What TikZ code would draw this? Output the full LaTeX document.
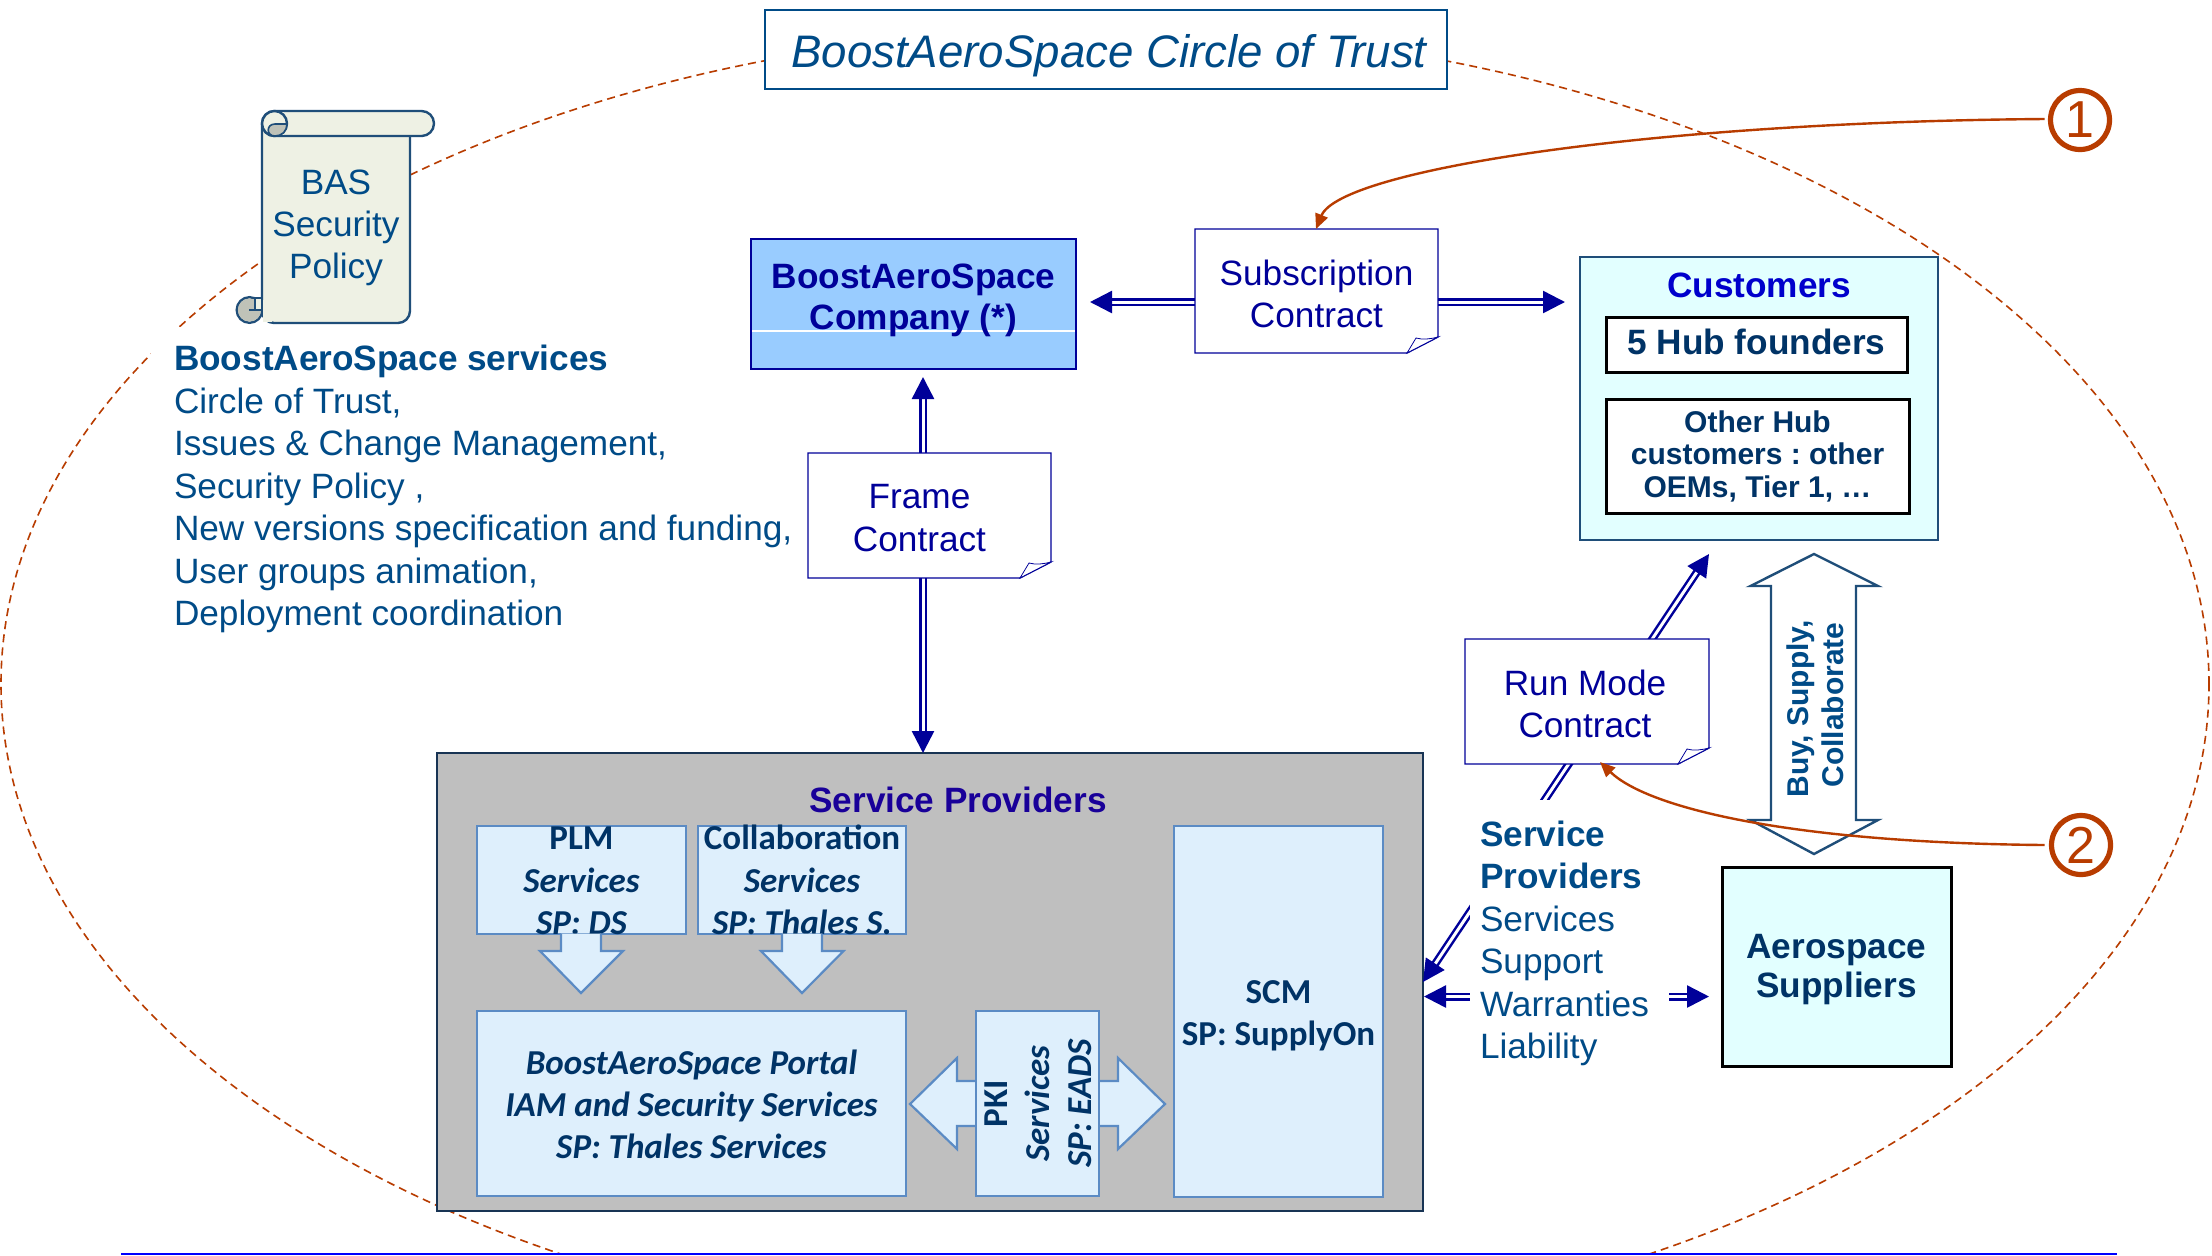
\documentclass[tikz,border=0pt]{standalone}
\usepackage{fontspec}
\setmainfont{Liberation Sans}
\newfontfamily\carl{Carlito}
\usetikzlibrary{arrows.meta,calc}
\newdimen\px \px=.5pt
\frenchspacing
\definecolor{basblue}{HTML}{004B87}
\definecolor{navy}{HTML}{000099}
\definecolor{rust}{HTML}{B83C00}
\definecolor{lightbx}{HTML}{DEEFFC}
\definecolor{lightedge}{HTML}{5B8BC4}
\definecolor{cyanbx}{HTML}{E2FFFF}
\definecolor{inktext}{HTML}{003366}
\definecolor{scrollbg}{HTML}{EEF1E4}
\definecolor{scrollgrey}{HTML}{BFC2B8}
\definecolor{edge}{HTML}{1F4E79}
% box: width, height, first baseline from top, line distance, text
\newcommand\mlbox[5]{\vbox to #2\px{\hsize=#1\px\parindent=0pt\parskip=0pt\lineskiplimit=-\maxdimen\baselineskip=#4\px\centering\vskip\dimexpr #3\px-#4\px\relax\prevdepth=0pt #5\par\vss}}
\newcommand\noteline[1]{%
  \draw[noteedge] (#1.north west) -- (#1.north east) -- ([shift={(0,-16)}]#1.south east) -- ([shift={(-31,0)}]#1.south east) -- (#1.south west) -- cycle;
  \draw[notefold] ([shift={(-31,0)}]#1.south east) -- ([shift={(-22,-15)}]#1.south east) .. controls ([shift={(-15,-13)}]#1.south east) and ([shift={(-8,-14)}]#1.south east) .. ([shift={(0,-16)}]#1.south east) -- cycle;}
\tikzset{
  sz/.style 2 args={rectangle,inner sep=0pt,outer sep=0pt,minimum width=#1*0.5pt,minimum height=#2*0.5pt},
  bodyfont/.style={font=\fontsize{17.6}{21}\selectfont},
  boldfont/.style={font=\fontsize{17.6}{21}\selectfont\bfseries},
  calb/.style={font=\fontsize{17.5}{20}\selectfont\carl\bfseries,text=inktext},
  calbi/.style={font=\fontsize{17.5}{20}\selectfont\carl\bfseries\itshape,text=inktext},
  lightbox/.style={fill=lightbx,draw=lightedge,line width=1.25pt},
  cyanbox/.style={fill=cyanbx,draw=edge,line width=1.25pt},
  blackbox/.style={draw=black,line width=1.5pt},
  notebox/.style={fill=white,text=navy,bodyfont},
  noteedge/.style={draw=navy,line width=.7pt},
  notefold/.style={draw=navy,line width=.4pt,fill=white},
  dblarrow/.style={draw=navy,line width=1.25pt,double=white,double distance=1.5pt,{Triangle[length=11pt,width=11pt]}-{Triangle[length=11pt,width=11pt]}},
  redarrow/.style={draw=rust,line width=1.2pt,-{Triangle[length=7.5pt,width=6.5pt]}},
  redcircle/.style={circle,draw=rust,line width=2.6pt,inner sep=0pt,outer sep=0pt,minimum size=29.5pt,text=rust,font=\fontsize{26}{26}\selectfont},
  blockarrow/.style={fill=lightbx,draw=lightedge,line width=1.1pt,line join=miter},
  circletrust/.style={draw=rust,line width=.8pt,dash pattern=on 4pt off 2.6pt},
  scrolledge/.style={draw=edge,line width=1.2pt},
}
\begin{document}
\begin{tikzpicture}[x=.5pt,y=-.5pt]
\useasboundingbox (0,0) rectangle (2212,1255);
\fill[white] (0,0) rectangle (2212,1255);
% circle of trust
\begin{scope}
  \clip (0,0) rectangle (2212,1253);
  \draw[circletrust] (1105,684) ellipse[x radius=552pt,y radius=327.5pt];
\end{scope}
\draw[draw=blue,line width=1.1pt] (121,1254) -- (2117,1254);
% title
\node[sz={682}{79},fill=white,draw=basblue,line width=1.25pt,text=basblue,font=\fontsize{22.8}{28}\selectfont\itshape] (title) at (1106,49.5) {\mlbox{682}{79}{57}{50}{\leavevmode\kern6\px BoostAeroSpace Circle of Trust}};
% services text
\node[sz={649}{313},fill=white,text=basblue,bodyfont] (services) at (475.5,483.5) {\mlbox{649}{313}{43.5}{42.5}{\raggedright\leftskip=23\px\textbf{BoostAeroSpace services}\\Circle of Trust,\\Issues \& Change Management,\\Security Policy ,\\New versions specification and funding,\\User groups animation,\\Deployment coordination}};
% scroll
\draw[scrolledge,fill=scrollbg,rounded corners=6pt] (262,124) -- (262,323) -- (410,323) -- (410,130);
\draw[scrolledge,fill=scrollbg] (249.5,310) circle[radius=6.4pt];
\fill[scrollgrey] (249.5,310) circle[radius=5.8pt];
\draw[scrolledge,fill=scrollbg,line width=.8pt] (255,298) rectangle (262,310);
\draw[scrolledge,line width=.8pt] (249,310) -- (256,310);
\fill[scrollbg] (263,300) rectangle (272,322);
\draw[scrolledge] (262,300) -- (262,312);
\draw[scrolledge,fill=scrollbg,rounded corners=6.2pt] (262,111) rectangle (434,136);
\fill[scrollbg] (270,112) rectangle (284,135);
\draw[scrolledge,fill=scrollbg] (274.5,123.5) circle[radius=6.25pt];
\draw[scrolledge,fill=scrollgrey,line width=.8pt] (287,124) -- (275,124) .. controls (266,124) and (266,136) .. (275,136) .. controls (282,136) and (287,131) .. (287,124) -- cycle;
\node[sz={148}{187},text=basblue,bodyfont] (policy) at (336,229.5) {\mlbox{148}{187}{58}{42}{BAS\\Security\\Policy}};
% main boxes
\node[sz={325}{130},fill={rgb,255:red,153;green,204;blue,255},draw=navy,line width=1pt,text=navy,boldfont,path picture={\draw[white,line width=.6pt] ([shift={(0,27)}]path picture bounding box.west) -- ([shift={(0,27)}]path picture bounding box.east);}] (company) at (913.5,304) {\mlbox{325}{130}{49.5}{41}{BoostAeroSpace\\Company (*)}};
\node[sz={358}{283},cyanbox,text={rgb,255:red,0;green,0;blue,204},boldfont] (customers) at (1759,398.5) {\mlbox{358}{283}{40.5}{42}{Customers}};
\node[sz={301}{55},fill=white,blackbox,text=inktext,boldfont] (hub) at (1756.5,344.5) {\mlbox{301}{55}{37}{42}{5 Hub founders}};
\node[sz={303}{114},fill=white,blackbox,text=inktext,font=\fontsize{15}{18}\selectfont\bfseries] (other) at (1757.5,456) {\mlbox{303}{114}{33}{32.5}{Other Hub\\customers : other\\OEMs, Tier 1, …}};
\node[sz={229}{198.5},fill=cyanbx,blackbox,text=inktext,boldfont] (aero) at (1836.5,966.75) {\mlbox{229}{198.5}{91}{39}{Aerospace\\Suppliers}};
\node[sz={986}{458},fill={rgb,255:red,191;green,191;blue,191},draw={rgb,255:red,24;green,52;blue,84},line width=1.25pt,text={rgb,255:red,25;green,0;blue,153},boldfont] (sp) at (930,982) {\mlbox{986}{458}{59.5}{42}{\leavevmode\kern56\px Service Providers}};
% service boxes
\node[sz={209}{108},lightbox,calb] (plm) at (581.5,880) {\mlbox{209}{108}{23.5}{42.5}{PLM\\\itshape Services\\SP: DS}};
\node[sz={208}{108},lightbox,calb] (collab) at (802,880) {\mlbox{208}{108}{23.5}{42.5}{Collaboration\\\itshape Services\\SP: Thales S.}};
\node[sz={429}{185},lightbox,calbi] (portal) at (691.5,1103.5) {\mlbox{429}{185}{63.5}{42}{BoostAeroSpace Portal\\IAM and Security Services\\SP: Thales Services}};
\node[sz={209}{371},lightbox,calb] (scm) at (1278.5,1011.5) {\mlbox{209}{371}{177.5}{42}{SCM\\SP: SupplyOn}};
% block arrows
\draw[blockarrow,fill=lightbx] (561,933.5) -- (561,951) -- (540,951) -- (581,993) -- (623,951) -- (601,951) -- (601,933.5);
\draw[blockarrow,fill=lightbx] (782,933.5) -- (782,951) -- (761,951) -- (802,993) -- (843.5,951) -- (822,951) -- (822,933.5);
\draw[blockarrow] (910,1104) -- (957,1058) -- (957,1081) -- (1118,1081) -- (1118,1058) -- (1165,1104) -- (1118,1149) -- (1118,1126) -- (957,1126) -- (957,1149) -- cycle;
\node[sz={185}{123},rotate=90,lightbox,calb] (pki) at (1037.5,1103.5) {\mlbox{185}{123}{31}{42}{PKI\\\itshape Services\\SP: EADS}};
% buy, supply
\draw[draw=edge,fill=white,line width=1.2pt] (1814,554) -- (1878,586) -- (1856,586) -- (1856,820) -- (1878,820) -- (1814,854) -- (1750.5,820) -- (1771,820) -- (1771,586) -- (1750.5,586) -- cycle;
\node[sz={240}{85},rotate=90,text=basblue,font=\fontsize{15}{18}\selectfont\bfseries] (buy) at (1813.5,705) {\mlbox{240}{85}{37}{35}{Buy, Supply,\kern8\px\\Collaborate}};
% double connectors
\draw[dblarrow] ([shift={(9.5,8)}]company.south) -- ([shift={(-7,0)}]sp.north);
\draw[dblarrow] ([shift={(14,-2)}]company.east) -- ([shift={(-15,-96.5)}]customers.west);
\draw[dblarrow] (sp.east) -- ([shift={(-50,14)}]customers.south);
\draw[dblarrow] ([shift={(1,14.5)}]sp.east) -- ([shift={(-13,29.75)}]aero.west);
% contracts
\node[sz={243}{125},notebox] (frame) at (929.5,515.5) {\mlbox{243}{125}{55.5}{43}{Frame\kern20\px\\Contract\kern20\px}};
\noteline{frame}
\node[sz={243}{124},notebox] (sub) at (1316.5,291) {\mlbox{243}{124}{56}{42}{Subscription\\Contract}};
\noteline{sub}
\node[sz={244}{125},notebox] (run) at (1587,701.5) {\mlbox{244}{125}{56}{42}{Run Mode\kern4\px\\Contract\kern4\px}};
\noteline{run}
% service-providers text
\node[sz={199}{275},fill=white,text=basblue,bodyfont] (spterms) at (1569.5,937.5) {\mlbox{199}{275}{46.5}{42.4}{\raggedright\leftskip=10\px\textbf{Service}\\\textbf{Providers}\\Services\\Support\\Warranties\\Liability}};
% numbered markers
\node[redcircle] (c1) at (2080,120) {1};
\node[redcircle] (c2) at (2081,845) {2};
\draw[redarrow] ([shift={(-6,-1)}]c1.west) .. controls (1650,122) and (1340,170) .. ([shift={(-.5,0)}]sub.north);
\draw[redarrow] ([shift={(-7,0)}]c2.west) .. controls (1800,843) and (1650,810) .. ([shift={(13,-2)}]run.south);
\end{tikzpicture}
\end{document}
